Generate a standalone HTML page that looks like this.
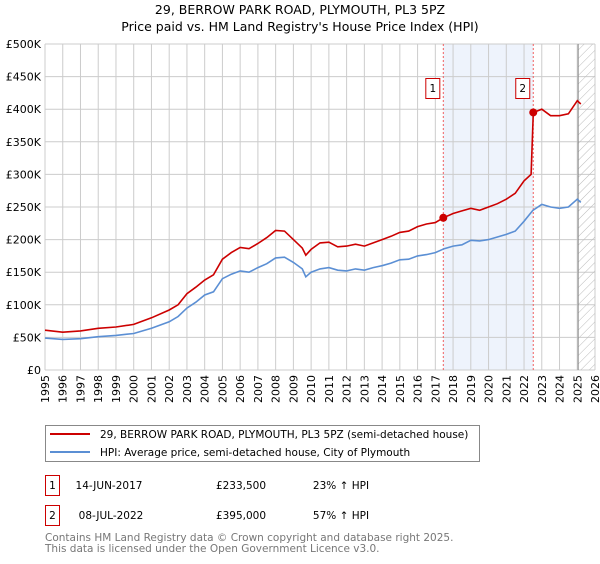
<!DOCTYPE html>
<html><head><meta charset="utf-8"><style>
body{margin:0;background:#fff;font-family:"DejaVu Sans","Liberation Sans",sans-serif;}
svg text{font-family:"DejaVu Sans","Liberation Sans",sans-serif;}
</style></head><body>
<svg id="chart" width="600" height="560" viewBox="0 0 600 560">
<defs><pattern id="hatch" width="6" height="6" patternUnits="userSpaceOnUse" patternTransform="rotate(45)"><line x1="0" y1="0" x2="0" y2="6" stroke="#bbb" stroke-width="1"/></pattern></defs>
<text x="300" y="14" text-anchor="middle" font-size="12.5">29, BERROW PARK ROAD, PLYMOUTH, PL3 5PZ</text>
<text x="300" y="31" text-anchor="middle" font-size="12.5">Price paid vs. HM Land Registry's House Price Index (HPI)</text>
<g id="grid"></g><g id="series"></g><g id="marks"></g>
<rect x="45.5" y="425.5" width="434" height="36" fill="#fff" stroke="#888"/>
<line x1="50" y1="434" x2="90" y2="434" stroke="#cc0000" stroke-width="2"/>
<text x="100" y="438" font-size="10.5">29, BERROW PARK ROAD, PLYMOUTH, PL3 5PZ (semi-detached house)</text>
<line x1="50" y1="452" x2="90" y2="452" stroke="#5b8fd4" stroke-width="2"/>
<text x="100" y="456" font-size="10.5">HPI: Average price, semi-detached house, City of Plymouth</text>
<g font-size="10.5">
<rect x="45.5" y="475.5" width="14" height="20" fill="#fff" stroke="#cc0000"/><text x="52.5" y="489" text-anchor="middle">1</text>
<text x="109" y="489" text-anchor="middle">14-JUN-2017</text><text x="241" y="489" text-anchor="middle">£233,500</text><text x="341" y="489" text-anchor="middle">23% ↑ HPI</text></g>
<g font-size="10.5">
<rect x="45.5" y="505.5" width="14" height="20" fill="#fff" stroke="#cc0000"/><text x="52.5" y="519" text-anchor="middle">2</text>
<text x="111" y="519" text-anchor="middle">08-JUL-2022</text><text x="241" y="519" text-anchor="middle">£395,000</text><text x="341" y="519" text-anchor="middle">57% ↑ HPI</text></g>
<text x="45" y="541" font-size="10.5" fill="#777">Contains HM Land Registry data © Crown copyright and database right 2025.</text>
<text x="45" y="552" font-size="10.5" fill="#777">This data is licensed under the Open Government Licence v3.0.</text>
</svg>
<script>
const yTicks=[0,50000,100000,150000,200000,250000,300000,350000,400000,450000,500000];
const yTickLabels=["£0","£50K","£100K","£150K","£200K","£250K","£300K","£350K","£400K","£450K","£500K"];
const years=[1995,1996,1997,1998,1999,2000,2001,2002,2003,2004,2005,2006,2007,2008,2009,2010,2011,2012,2013,2014,2015,2016,2017,2018,2019,2020,2021,2022,2023,2024,2025,2026];
const hpiT=[1995,1996,1997,1998,1999,2000,2001,2002,2002.5,2003,2003.5,2004,2004.5,2005,2005.5,2006,2006.5,2007,2007.5,2008,2008.5,2009,2009.5,2009.7,2010,2010.5,2011,2011.5,2012,2012.5,2013,2013.5,2014,2014.5,2015,2015.5,2016,2016.5,2017,2017.5,2018,2018.5,2019,2019.5,2020,2020.5,2021,2021.5,2022,2022.5,2023,2023.5,2024,2024.5,2025,2025.2];
const hpiV=[49,47,48,51,53,56,64,74,82,95,104,115,120,140,147,152,150,157,163,172,173,165,155,143,150,155,157,153,152,155,153,157,160,164,169,170,175,177,180,186,190,192,199,198,200,204,208,213,228,245,254,250,248,250,262,257];
const propT=[1995,1996,1997,1998,1999,2000,2001,2002,2002.5,2003,2003.5,2004,2004.5,2005,2005.5,2006,2006.5,2007,2007.5,2008,2008.5,2009,2009.5,2009.7,2010,2010.5,2011,2011.5,2012,2012.5,2013,2013.5,2014,2014.5,2015,2015.5,2016,2016.5,2017,2017.45,2018,2018.5,2019,2019.5,2020,2020.5,2021,2021.5,2022,2022.4,2022.52,2023,2023.5,2024,2024.5,2025,2025.2];
const propV=[61,58,60,64,66,70,80,92,100,117,127,138,146,170,180,188,186,194,203,214,213,200,187,176,185,195,196,189,190,193,190,195,200,205,211,213,220,224,226,233.5,240,244,248,245,250,255,262,271,290,300,395,400,390,390,393,413,408];
const saleT=[2017.45,2022.52];
const saleV=[233500,395000];
const saleLabels=["1","2"];
const X0=45,X1=595,Y0=370,Y1=44;
const x=t=>X0+(t-1995)/31*(X1-X0);
const y=v=>Y0-v/500000*(Y0-Y1);
const NS="http://www.w3.org/2000/svg";
function mk(p,tag,a){const e=document.createElementNS(NS,tag);for(const k in a)e.setAttribute(k,a[k]);p.appendChild(e);return e;}
const grid=document.getElementById('grid'),ser=document.getElementById('series'),mg=document.getElementById('marks');
const shade=mk(grid,'rect',{x:x(saleT[0]),y:Y1,width:x(saleT[1])-x(saleT[0]),height:Y0-Y1,fill:'#eef3fc'});


yTicks.forEach((v,i)=>{
 mk(grid,'line',{x1:X0,x2:X1,y1:y(v),y2:y(v),stroke:'#ccc'});
 const t=mk(grid,'text',{x:X0-4,y:y(v)+4,'text-anchor':'end','font-size':'11'});t.textContent=yTickLabels[i];
 
 
});
years.forEach(yr=>{
 mk(grid,'line',{x1:x(yr),x2:x(yr),y1:Y1,y2:Y0,stroke:'#ccc'});
 const t=mk(grid,'text',{x:0,y:0,'text-anchor':'end','font-size':'11',transform:`translate(${x(yr)+4},${Y0+5}) rotate(-90)`});t.textContent=yr;
 
 
});
const hatch=mk(grid,'rect',{x:x(2025.05),y:Y1,width:X1-x(2025.05),height:Y0-Y1,fill:'url(#hatch)'});


mk(grid,'line',{x1:x(2025.05),x2:x(2025.05),y1:Y1,y2:Y0,stroke:'#888'});
saleT.forEach((t,i)=>{
 mk(grid,'line',{x1:x(t),x2:x(t),y1:Y1,y2:Y0,stroke:'#f06060','stroke-dasharray':'2,2'});
 const g=mk(mg,'g',{});
 
 
 mk(g,'rect',{x:x(t)-17.5,y:78.5,width:14,height:20,fill:'#fff',stroke:'#cc0000'});
 const tx=mk(g,'text',{x:x(t)-10.5,y:92,'text-anchor':'middle','font-size':'10.5'});tx.textContent=saleLabels[i];
});
function path(T,V,col,name){
 const d=T.map((t,i)=>(i?'L':'M')+x(t).toFixed(1)+','+y(V[i]*1000).toFixed(1)).join('');
 const p=mk(ser,'path',{d:d,fill:'none',stroke:col,'stroke-width':1.6});
 
 
}
path(hpiT,hpiV,'#5b8fd4','hpi-line');
path(propT,propV,'#cc0000','property-line');
saleT.forEach((t,i)=>{
 const c=mk(mg,'circle',{cx:x(t),cy:y(saleV[i]),r:4,fill:'#cc0000'});
 
 
});
</script>
</body></html>
